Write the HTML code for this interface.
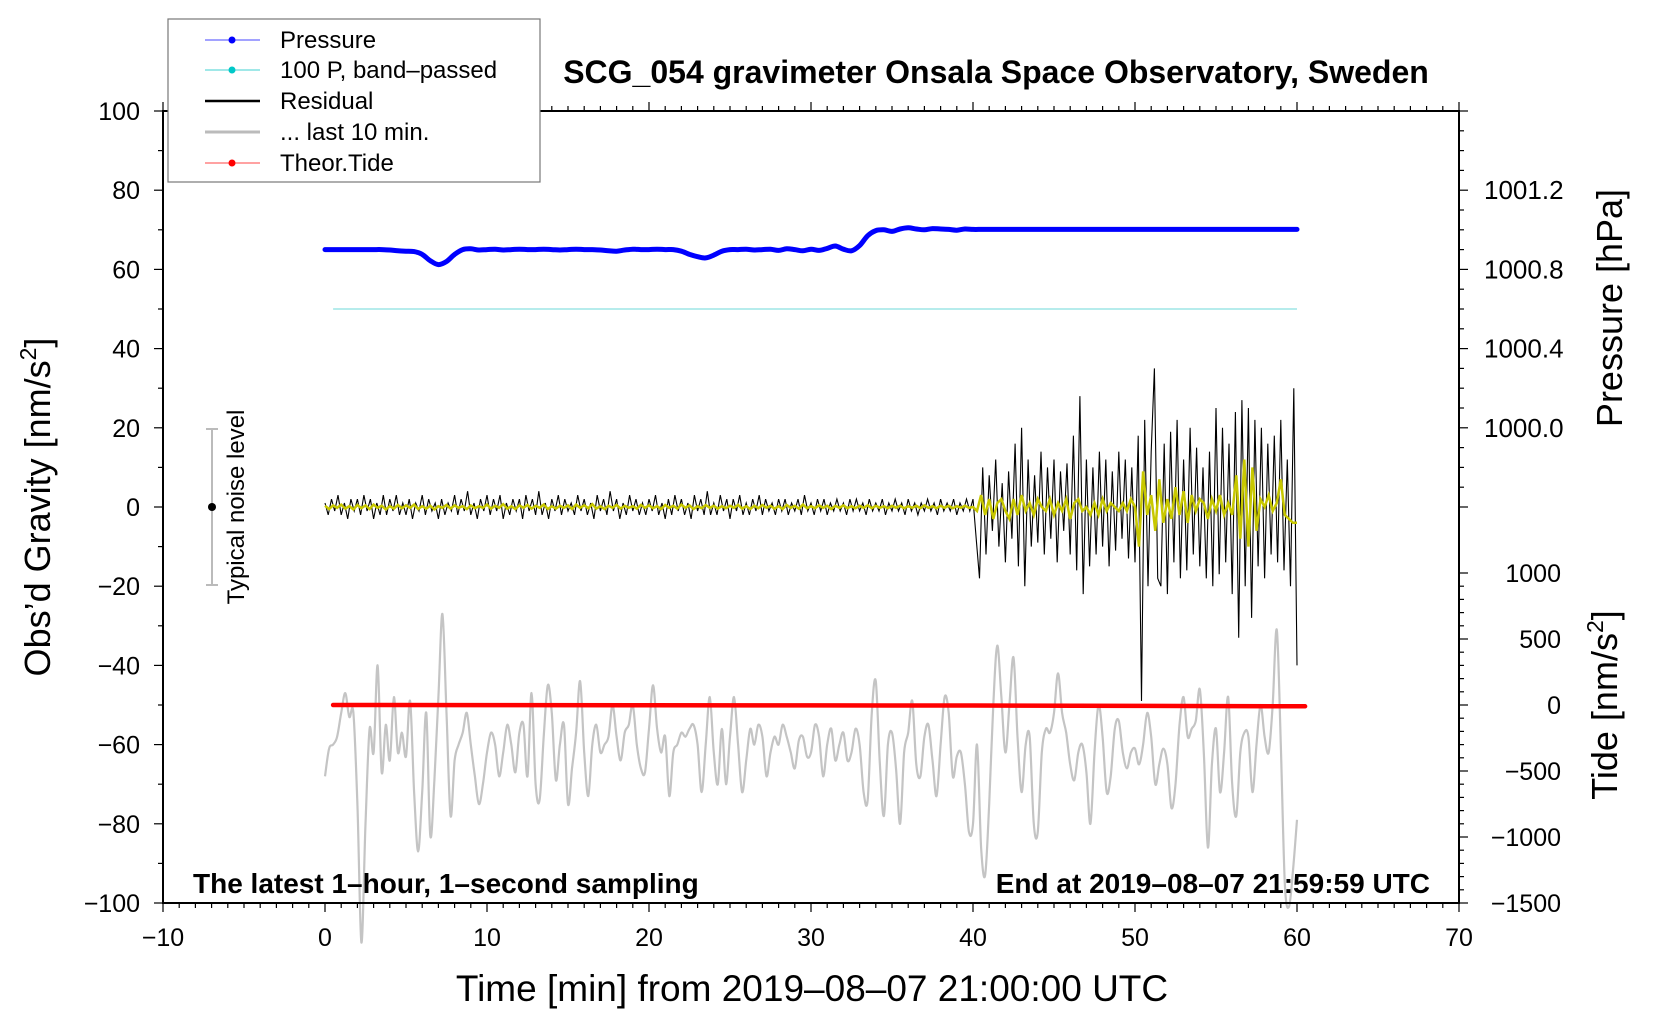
<!DOCTYPE html>
<html><head><meta charset="utf-8"><style>
html,body{margin:0;padding:0;background:#fff;}
svg{display:block;font-family:"Liberation Sans",sans-serif;}
</style></head><body>
<svg id="chart" width="1660" height="1020" viewBox="0 0 1660 1020" xmlns="http://www.w3.org/2000/svg">
<rect x="0" y="0" width="1660" height="1020" fill="#fff"/>
<g id="marks"></g>
<g id="axes"></g>
<text x="996" y="83" text-anchor="middle" font-size="32" font-weight="bold">SCG_054 gravimeter Onsala Space Observatory, Sweden</text>
<text x="193" y="893" font-size="28" font-weight="bold">The latest 1–hour, 1–second sampling</text>
<text x="1430" y="893" text-anchor="end" font-size="28" font-weight="bold">End at 2019–08–07 21:59:59 UTC</text>
<text x="812" y="1001" text-anchor="middle" font-size="37">Time [min] from 2019–08–07 21:00:00 UTC</text>
<text transform="translate(50,507) rotate(-90)" text-anchor="middle" font-size="36">Obs’d Gravity [nm/s<tspan font-size="23" dy="-14">2</tspan><tspan dy="14">]</tspan></text>
<text transform="translate(1622,308) rotate(-90)" text-anchor="middle" font-size="36">Pressure [hPa]</text>
<text transform="translate(1617,705) rotate(-90)" text-anchor="middle" font-size="36">Tide [nm/s<tspan font-size="23" dy="-14">2</tspan><tspan dy="14">]</tspan></text>
<g>
<line x1="212" y1="429" x2="212" y2="585" stroke="#bbb" stroke-width="2"/>
<line x1="206" y1="429" x2="218" y2="429" stroke="#bbb" stroke-width="2"/>
<line x1="206" y1="585" x2="218" y2="585" stroke="#bbb" stroke-width="2"/>
<circle cx="212" cy="507" r="4" fill="#000"/>
<text transform="translate(244,507) rotate(-90)" text-anchor="middle" font-size="24">Typical noise level</text>
</g>
<g>
<rect x="168" y="19" width="372" height="163" fill="#fff" stroke="#777" stroke-width="1.2"/>
<g><line x1="205" y1="40" x2="260" y2="40" stroke="#4444ff" stroke-width="1"/><circle cx="232" cy="40" r="3.5" fill="#0000ff"/><text x="280" y="48" font-size="24">Pressure</text></g>
<g><line x1="205" y1="70" x2="260" y2="70" stroke="#40d0d0" stroke-width="1"/><circle cx="232" cy="70" r="3.5" fill="#00c8c8"/><text x="280" y="78" font-size="24">100 P, band–passed</text></g>
<g><line x1="205" y1="101" x2="260" y2="101" stroke="#000" stroke-width="2.5"/><text x="280" y="109" font-size="24">Residual</text></g>
<g><line x1="205" y1="132" x2="260" y2="132" stroke="#bbb" stroke-width="3"/><text x="280" y="140" font-size="24">... last 10 min.</text></g>
<g><line x1="205" y1="163" x2="260" y2="163" stroke="#ff4444" stroke-width="1"/><circle cx="232" cy="163" r="3.5" fill="#ff0000"/><text x="280" y="171" font-size="24">Theor.Tide</text></g>
</g>
</svg>
<script>
// ---- data ----
const pressureStep = 0.5;
const pressureHPa = [1000.900,1000.900,1000.900,1000.900,1000.900,1000.900,1000.900,1000.900,
1000.898,1000.894,1000.892,1000.890,1000.876,1000.844,1000.824,1000.840,1000.876,1000.900,1000.904,1000.898,
1000.900,1000.902,1000.898,1000.900,1000.902,1000.900,1000.900,1000.902,1000.900,1000.898,1000.900,1000.902,1000.900,1000.900,1000.898,
1000.894,1000.892,1000.898,1000.902,1000.900,1000.900,1000.902,1000.900,1000.900,1000.892,
1000.876,1000.864,1000.858,1000.872,1000.892,1000.900,1000.900,1000.902,1000.898,1000.900,
1000.902,1000.896,1000.904,1000.900,1000.894,1000.902,1000.896,1000.906,1000.918,1000.902,
1000.894,1000.920,1000.970,1000.996,1001.000,1000.992,1001.004,1001.010,1001.004,1001.000,
1001.006,1001.004,1001.002,1000.998,1001.004,
1001.002,1001.002,1001.002,1001.002,1001.002,1001.002,1001.002,1001.002,1001.002,1001.002,
1001.002,1001.002,1001.002,1001.002,1001.002,1001.002,1001.002,1001.002,1001.002,1001.002,
1001.002,1001.002,1001.002,1001.002,1001.002,1001.002,1001.002,1001.002,1001.002,1001.002,
1001.002,1001.002,1001.002,1001.002,1001.002,1001.002,1001.002,1001.002,1001.002,1001.002,1001.002];
const bandT = [0.5, 60];
const bandV = [50, 50];
const residualStep = 0.2;
const residual = [1,-2,2,-1,3,-2,1,-3,2,-1,2,-2,3,-1,2,-3,1,-2,3,-2,
2,-1,3,-2,1,-2,2,-3,1,-1,3,-2,2,-1,1,-3,2,-2,1,-1,
3,-2,2,-1,4,-2,1,-3,2,-1,3,-2,2,-1,3,-3,1,-2,2,-1,
2,-3,3,-1,2,-2,4,-2,1,-3,2,-1,3,-2,2,-1,1,-2,3,-1,
2,-2,1,-3,3,-1,2,-2,4,-1,2,-3,1,-2,3,-1,2,-2,1,-2,
2,-1,3,-2,1,-3,2,-2,3,-1,2,-2,1,-3,3,-1,2,-2,4,-2,
1,-2,3,-1,2,-3,2,-1,3,-2,1,-2,2,-1,3,-2,2,-1,1,-2,
2,-1,2,-2,1,-1,2,-2,3,-1,1,-2,2,-1,2,-2,1,-1,2,-1,
1,-2,2,-1,2,-1,1,-2,2,-1,1,-1,2,-2,1,-1,2,-1,1,-2,
2,-1,1,-2,1,-1,2,-1,1,-2,2,-1,1,-1,2,-2,1,-1,2,-1,
2,-8,-18,10,-12,8,-6,12,-10,6,
-14,9,-8,16,-15,20,-20,12,-10,8,
-9,14,-12,10,-8,12,-14,9,-6,11,
-12,18,-16,28,-22,12,-15,10,-12,14,
-10,12,-15,9,-11,14,-8,12,-13,10,
-14,18,-49,22,-20,14,35,-18,-20,16,
-22,19,-14,22,-18,12,-16,20,-12,15,
-15,10,-18,14,-20,25,-17,20,-14,16,
-22,24,-33,27,-20,25,-28,22,-15,20,
-18,16,-12,18,-14,22,-16,12,-20,30,
-40];
const smoothStep = 0.25;
const smoothed = [0.3,-0.5,0.4,-0.2,0.6,-0.4,0.2,-0.6,0.5,-0.3,0.4,-0.5,0.6,-0.2,0.3,-0.6,0.2,-0.4,0.5,-0.3,
0.4,-0.2,0.6,-0.5,0.2,-0.4,0.3,-0.6,0.2,-0.2,0.5,-0.4,0.4,-0.2,0.2,-0.5,0.4,-0.3,0.2,-0.2,
0.6,-0.4,0.3,-0.2,0.7,-0.4,0.2,-0.5,0.4,-0.2,0.5,-0.4,0.3,-0.2,0.6,-0.5,0.2,-0.4,0.3,-0.2,
0.4,-0.5,0.6,-0.2,0.4,-0.3,0.7,-0.4,0.2,-0.5,0.3,-0.2,0.5,-0.4,0.3,-0.2,0.2,-0.4,0.5,-0.2,
0.4,-0.3,0.2,-0.5,0.5,-0.2,0.3,-0.4,0.6,-0.2,0.4,-0.5,0.2,-0.3,0.5,-0.2,0.3,-0.4,0.2,-0.3,
0.3,-0.2,0.5,-0.4,0.2,-0.5,0.3,-0.3,0.5,-0.2,0.3,-0.4,0.2,-0.5,0.5,-0.2,0.3,-0.4,0.6,-0.3,
0.2,-0.3,0.4,-0.2,0.3,-0.5,0.3,-0.2,0.4,-0.3,0.2,-0.3,0.3,-0.2,0.4,-0.3,0.3,-0.2,0.2,-0.3,
0.3,-0.2,0.3,-0.3,0.2,-0.2,0.3,-0.3,0.4,-0.2,0.2,-0.3,0.3,-0.2,0.3,-0.3,0.2,-0.2,0.3,-0.2,
0,-1,3,-2,2,-3,1,2,-1,-3,
2,-2,3,-1,1,-2,2,0,-1,2,
-2,1,-1,2,-3,1,2,-1,0,-2,
1,-2,2,-1,1,0,-1,1,-1,2,
0,-10,9,-2,3,-6,7,-4,2,-3,
5,-2,4,-4,3,-1,2,1,-3,2,
-1,3,-2,1,-2,8,-8,12,-10,10,
-6,2,0,3,-1,1,7,-2,-3,-4,
-4];
const lastStep = 0.25;
const last10 = [-68,-61,-60,-58,-52,-47,-53,-52,-75,-110,-80,-56,-62,-40,-67,-55,-64,-48,-62,-57,
-63,-49,-72,-87,-72,-52,-83,-69,-48,-27,-52,-78,-64,-60,-57,-52,-60,-68,-75,-70,
-62,-57,-60,-68,-62,-55,-60,-67,-57,-55,-68,-47,-70,-74,-58,-45,-52,-69,-60,-55,
-75,-66,-57,-44,-62,-73,-60,-55,-62,-60,-58,-50,-58,-64,-57,-55,-50,-60,-66,-67,
-56,-45,-56,-62,-58,-73,-62,-60,-57,-58,-56,-55,-60,-72,-60,-48,-62,-70,-56,-70,
-58,-48,-60,-72,-64,-56,-60,-55,-58,-68,-62,-58,-60,-55,-58,-62,-66,-59,-58,-63,
-62,-55,-58,-68,-60,-56,-64,-60,-57,-64,-62,-56,-60,-72,-74,-52,-44,-65,-78,-60,
-57,-66,-80,-62,-57,-49,-65,-68,-58,-55,-64,-73,-60,-48,-52,-68,-63,-62,-70,-82,
-80,-60,-86,-93,-75,-50,-35,-48,-62,-50,-38,-58,-72,-60,-58,-80,-82,-62,-56,-57,
-52,-42,-52,-57,-65,-69,-62,-60,-67,-80,-62,-50,-58,-72,-68,-56,-54,-62,-66,-62,
-61,-65,-60,-52,-58,-70,-65,-61,-65,-76,-70,-55,-48,-58,-56,-54,-46,-62,-86,-65,
-56,-72,-62,-48,-70,-78,-62,-57,-58,-72,-60,-50,-58,-62,-50,-31,-60,-95,-101,-92,
-79];
const tideT = [0.5,10,20,30,40,50,60.5];
const tideV = [0,-1,-2,-3,-4,-7,-10];
const xTicks = [-10,0,10,20,30,40,50,60,70];
const yTicks = [-100,-80,-60,-40,-20,0,20,40,60,80,100];
const yTickLabels = ["−100","−80","−60","−40","−20","0","20","40","60","80","100"];
const pTicks = [1000.0,1000.4,1000.8,1001.2];
const pTickLabels = ["1000.0","1000.4","1000.8","1001.2"];
const tideTicks = [1000,500,0,-500,-1000,-1500];
const tideTickLabels = ["1000","500","0","−500","−1000","−1500"];

// ---- scales ----
const X0=163, X1=1459, Y0=111, Y1=903;
function xs(t){ return 325 + 16.2*t; }
function yg(g){ return 507 - 3.96*g; }
function gFromP(p){ return 20 + (p-1000)*50; }
function gFromTide(v){ return -50 + v/30; }

const NS="http://www.w3.org/2000/svg";
const marks=document.getElementById('marks');
const axes=document.getElementById('axes');
function mk(tag, attrs, parent){
  const e=document.createElementNS(NS,tag);
  for(const k in attrs) e.setAttribute(k,attrs[k]);
  parent.appendChild(e); return e;
}
function ptsStep(arr, step, fy){ return arr.map((v,i)=>[xs(i*step), yg(fy(v))]); }
function poly(pts){ return 'M'+pts.map(p=>p[0].toFixed(1)+','+p[1].toFixed(1)).join('L'); }
function smooth(pts){
  let d='M'+pts[0][0].toFixed(1)+','+pts[0][1].toFixed(1);
  for(let i=0;i<pts.length-1;i++){
    const p0=pts[Math.max(0,i-1)],p1=pts[i],p2=pts[i+1],p3=pts[Math.min(pts.length-1,i+2)];
    const c1=[p1[0]+(p2[0]-p0[0])/6,p1[1]+(p2[1]-p0[1])/6];
    const c2=[p2[0]-(p3[0]-p1[0])/6,p2[1]-(p3[1]-p1[1])/6];
    d+='C'+c1[0].toFixed(1)+','+c1[1].toFixed(1)+' '+c2[0].toFixed(1)+','+c2[1].toFixed(1)+' '+p2[0].toFixed(1)+','+p2[1].toFixed(1);
  }
  return d;
}

const grey=mk('path',{d:smooth(ptsStep(last10,lastStep,v=>v)),fill:'none',stroke:'#c4c4c4','stroke-width':2.2},marks);


const tide=mk('path',{d:poly(tideT.map((t,i)=>[xs(t),yg(gFromTide(tideV[i]))])),fill:'none',stroke:'#ff0000','stroke-width':4.5,'stroke-linecap':'round'},marks);


const band=mk('path',{d:poly(bandT.map((t,i)=>[xs(t),yg(bandV[i])])),fill:'none',stroke:'#9ee6e6','stroke-width':1.5},marks);


const res=mk('path',{d:poly(ptsStep(residual,residualStep,v=>v)),fill:'none',stroke:'#000','stroke-width':1.1},marks);


const sm=mk('path',{d:poly(ptsStep(smoothed,smoothStep,v=>v)),fill:'none',stroke:'#c8c800','stroke-width':2.5},marks);


const pr=mk('path',{d:smooth(ptsStep(pressureHPa,pressureStep,gFromP)),fill:'none',stroke:'#0000ff','stroke-width':5,'stroke-linecap':'round'},marks);



const frame=mk('rect',{x:X0,y:Y0,width:X1-X0,height:Y1-Y0,fill:'none',stroke:'#000','stroke-width':2},axes);



for(let t=-10;t<=70;t++){
  const major=(t%10===0), L=major?9:5, x=xs(t);
  mk('line',{x1:x,y1:Y1,x2:x,y2:Y1+L,stroke:'#000','stroke-width':1.2},axes);
  mk('line',{x1:x,y1:Y0,x2:x,y2:Y0-L,stroke:'#000','stroke-width':1.2},axes);
}
xTicks.forEach(t=>{
  const lb=mk('text',{x:xs(t),y:946,'text-anchor':'middle','font-size':25},axes);
  lb.textContent=(t<0?'−'+(-t):String(t));
  
  
});
for(let g=-100;g<=100;g+=10){
  const major=(g%20===0), L=major?9:5, y=yg(g);
  mk('line',{x1:X0,y1:y,x2:X0-L,y2:y,stroke:'#000','stroke-width':1.2},axes);
}
yTicks.forEach((g,i)=>{
  const lb=mk('text',{x:140,y:yg(g)+9,'text-anchor':'end','font-size':25},axes);
  lb.textContent=yTickLabels[i];
  
  
});
for(let k=0;k<=20;k++){
  const g=0+k*5; const major=(k%4===0);
  mk('line',{x1:X1,y1:yg(g),x2:X1+(major?9:5),y2:yg(g),stroke:'#000','stroke-width':1.2},axes);
}
pTicks.forEach((p,i)=>{
  const lb=mk('text',{x:1484,y:yg(gFromP(p))+9,'font-size':26},axes);
  lb.textContent=pTickLabels[i];
  
  
});
for(let v=-1500;v<=1000;v+=100){
  const major=(v%500===0);
  mk('line',{x1:X1,y1:yg(gFromTide(v)),x2:X1+(major?9:5),y2:yg(gFromTide(v)),stroke:'#000','stroke-width':1.2},axes);
}
tideTicks.forEach((v,i)=>{
  const lb=mk('text',{x:1561,y:yg(gFromTide(v))+9,'text-anchor':'end','font-size':25},axes);
  lb.textContent=tideTickLabels[i];
  
  
});
</script>
</body></html>
